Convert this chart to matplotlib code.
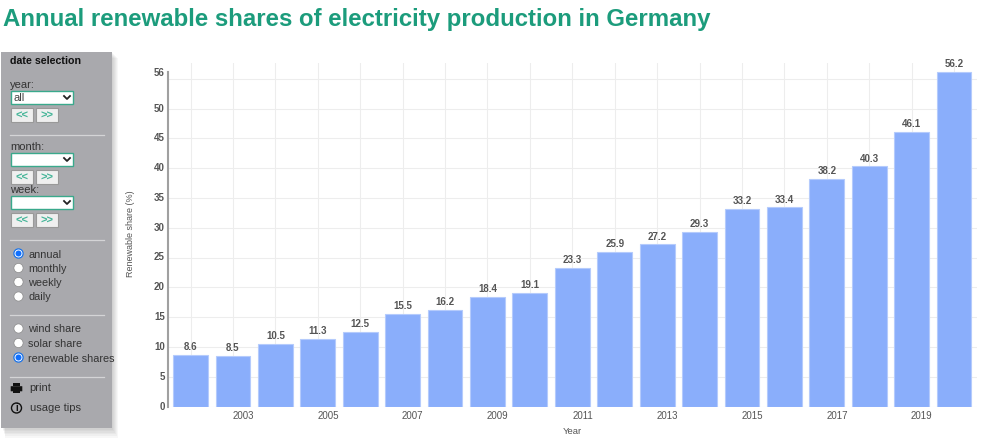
import matplotlib
matplotlib.use("Agg")
import matplotlib.pyplot as plt
from matplotlib.patches import Rectangle, Circle, FancyBboxPatch

plt.rcParams['font.family'] = ['Liberation Sans', 'DejaVu Sans']

years = list(range(2002, 2021))
shares = [8.6, 8.5, 10.5, 11.3, 12.5, 15.5, 16.2, 18.4, 19.1, 23.3,
          25.9, 27.2, 29.3, 33.2, 33.4, 38.2, 40.3, 46.1, 56.2]
y_ticks = [0, 5, 10, 15, 20, 25, 30, 35, 40, 45, 50, 56]
x_labels = [2003, 2005, 2007, 2009, 2011, 2013, 2015, 2017, 2019]

W, H = 1000, 446
green = '#1c9c7c'
panel = '#a9a9ad'
text_col = '#333333'

fig = plt.figure(figsize=(W / 100, H / 100), dpi=100)

# page overlay in pixel coordinates
ui = fig.add_axes([0, 0, 1, 1])
ui.set_xlim(0, W)
ui.set_ylim(H, 0)
ui.axis('off')

ui.text(3, 19.5, 'Annual renewable shares of electricity production in Germany',
        color=green, fontsize=17.27, fontweight='bold', va='center', ha='left')

# panel with soft shadow
for i in range(6, 0, -1):
    ui.add_patch(Rectangle((2 + i * 0.5, 52 + i), 110 + i * 0.5, 376 + i * 0.6,
                           fc='black', alpha=0.03, ec='none'))
ui.add_patch(Rectangle((1, 52), 111, 376, fc=panel, ec='none'))
ui.text(10, 61, 'date selection', fontsize=7.7, fontweight='bold', color='#111111', va='center')


def select(y, label=None):
    ui.add_patch(Rectangle((10.5, y), 62.5, 13, fc='white', ec='#3aa98c', lw=1))
    ui.plot([64, 67, 70], [y + 5, y + 8, y + 5], color='#222222', lw=1.3)
    if label:
        ui.text(14, y + 6.8, label, fontsize=8, color='#444444', va='center')


def buttons(y):
    for x0, s in ((11, '<<'), (36, '>>')):
        ui.add_patch(Rectangle((x0, y), 22, 14, fc='#efefef', ec='#999999', lw=0.8))
        ui.text(x0 + 11, y + 8, s, fontsize=8, fontweight='bold', color='#45b598',
                ha='center', va='center')


def divider(y):
    ui.plot([10, 104], [y, y], color='#d4d4d6', lw=0.9)


def radio(y, label, checked=False):
    if checked:
        ui.add_patch(Circle((18.5, y - 0.5), 4.6, fc='white', ec='#1a73e8', lw=0.9))
        ui.add_patch(Circle((18.5, y - 0.5), 3, fc='#0f6fff', ec='none'))
    else:
        ui.add_patch(Circle((18.5, y - 0.5), 4.6, fc='white', ec='#8a8a8a', lw=0.5))
    ui.text(28.5, y + 0.5, label, fontsize=7.85, color=text_col, va='center')


ui.text(10, 85.5, 'year:', fontsize=8, color=text_col, va='center')
select(91, 'all')
buttons(107.5)
divider(135)
ui.text(10, 147, 'month:', fontsize=8, color=text_col, va='center')
select(153)
buttons(169.5)
ui.text(10, 190, 'week:', fontsize=8, color=text_col, va='center')
select(196)
buttons(212.5)
divider(240)

radio(254, 'annual', True)
radio(268.5, 'monthly')
radio(282.5, 'weekly')
radio(297, 'daily')
divider(315)
radio(329, 'wind share')
radio(343.5, 'solar share')
radio(358, 'renewable shares', True)
divider(376.5)

# print icon
ui.add_patch(Rectangle((13, 383), 7, 2.5, fc='#111111', ec='none'))
ui.add_patch(FancyBboxPatch((11, 386.5), 11, 4.5, boxstyle='round,pad=0.3', fc='#111111', ec='none'))
ui.add_patch(Rectangle((13, 390), 7, 2.8, fc='#111111', ec='none'))
ui.text(29.5, 388, 'print', fontsize=8, color=text_col, va='center')
# info icon
ui.add_patch(Circle((16.5, 408), 5, fc='none', ec='#111111', lw=1))
ui.text(16.5, 408, 'i', fontsize=7, fontweight='bold', color='#111111', ha='center', va='center')
ui.text(29.5, 408, 'usage tips', fontsize=8, color=text_col, va='center')

# chart
left, right, top, bottom = 167.5, 977, 63, 406.5
ax = fig.add_axes([left / W, 1 - bottom / H, (right - left) / W, (bottom - top) / H])
ax.patch.set_alpha(0)
step = 42.42
ax.set_xlim(2002 - (190.5 - left) / step, 2002 + (right - 190.5) / step)
ax.set_ylim(0, (bottom - top) / 5.96)

ax.bar(years, shares, width=0.82, color='#8aaefb', edgecolor='#b5cbfc', linewidth=0.8, zorder=2)
for yr, val in zip(years, shares):
    ax.annotate(f'{val:.1f}', (yr, val), xytext=(0, 2), textcoords='offset points',
                ha='center', va='bottom', fontsize=7, fontweight='bold', color='#555555')

ax.set_xticks(years)
ax.set_xticklabels([])
ax.set_yticks(list(range(0, 60, 5)))
ax.set_yticklabels([])
ax.grid(True, color='#ededed', lw=0.8, zorder=0)
ax.set_axisbelow(True)
ax.tick_params(length=0)
for s in ['top', 'right', 'bottom']:
    ax.spines[s].set_visible(False)
ax.spines['left'].set_color('#a0a0a0')
ax.spines['left'].set_linewidth(1.5)
ax.spines['left'].set_bounds(0, 56.2)

for v in y_ticks:
    ax.annotate(str(v), (0, v), xycoords=('axes fraction', 'data'), xytext=(-2, 0),
                textcoords='offset points', ha='right', va='center', fontsize=7,
                fontweight='bold', color='#555555')
for yr in x_labels:
    ax.annotate(str(yr), (yr + 0.24, 0), xycoords=('data', 'axes fraction'), xytext=(0, -3),
                textcoords='offset points', ha='center', va='top', fontsize=7, color='#555555')

ui.text(572, 431, 'Year', fontsize=6.8, color='#555555', ha='center', va='center')
ui.text(130.5, 234, 'Renewable share (%)', fontsize=6.5, color='#555555', ha='center',
        va='center', rotation=90)

fig.savefig('out.png', dpi=100)
